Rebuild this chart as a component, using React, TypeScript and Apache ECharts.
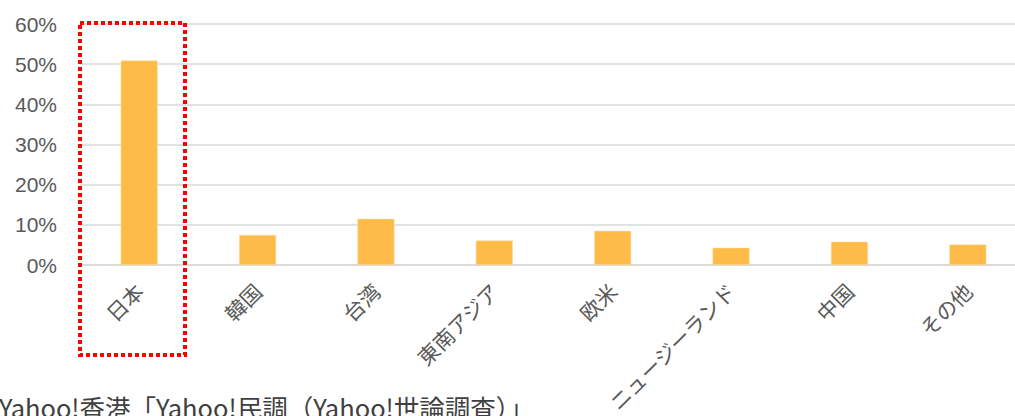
import React, { useEffect, useRef } from "react";
import * as echarts from "echarts";

const categories = ["日本", "韓国", "台湾", "東南アジア", "欧米", "ニュージーランド", "中国", "その他"];
const values = [50.9, 7.5, 11.5, 6.1, 8.5, 4.3, 5.8, 5.1];
const yTicks = { min: 0, max: 60, interval: 10 };
const sourceText = "Yahoo!香港「Yahoo!民調（Yahoo!世論調査）」";

export default function App() {
  const ref = useRef<HTMLDivElement>(null);
  useEffect(() => {
    if (!ref.current) return;
    const chart = echarts.init(ref.current, null, { renderer: "svg" });
    chart.setOption({
      animation: false,
      grid: { left: 80, right: 0, top: 24, bottom: 151, containLabel: false },
      xAxis: {
        type: "category",
        data: categories,
        axisLine: { show: true, lineStyle: { color: "#d9d9d9", width: 1.5 } },
        axisTick: { show: false },
        axisLabel: {
          rotate: 45,
          interval: 0,
          margin: 22,
          color: "#595959",
          fontSize: 21,
          fontFamily: "'Noto Sans CJK JP', sans-serif",
        },
      },
      yAxis: {
        type: "value",
        min: yTicks.min,
        max: yTicks.max,
        interval: yTicks.interval,
        axisLine: { show: false },
        axisTick: { show: false },
        splitLine: { lineStyle: { color: "#d9d9d9", width: 1.5 } },
        axisLabel: {
          formatter: "{value}%",
          margin: 23,
          color: "#595959",
          fontSize: 21,
          fontFamily: "'Liberation Sans', Arial, sans-serif",
        },
      },
      series: [
        {
          type: "bar",
          data: values,
          barWidth: 37,
          itemStyle: { color: "#ffbb48", borderColor: "#ffe0a8", borderWidth: 0.5 },
        },
      ],
      graphic: [
        {
          type: "rect",
          shape: { x: 80, y: 23, width: 105, height: 332 },
          style: { fill: "none", stroke: "#ff0000", lineWidth: 4, lineDash: [4, 3] },
          z: 100,
        },
        {
          type: "text",
          left: -1,
          top: 394,
          style: {
            text: sourceText,
            fill: "#404040",
            fontSize: 25.5,
            fontFamily: "'Noto Sans CJK JP', sans-serif",
          },
          z: 100,
        },
      ],
    });
    return () => chart.dispose();
  }, []);
  return (
    <div
      ref={ref}
      style={{ position: "fixed", left: 0, top: 0, width: 1027, height: 416, background: "#fff" }}
    />
  );
}
